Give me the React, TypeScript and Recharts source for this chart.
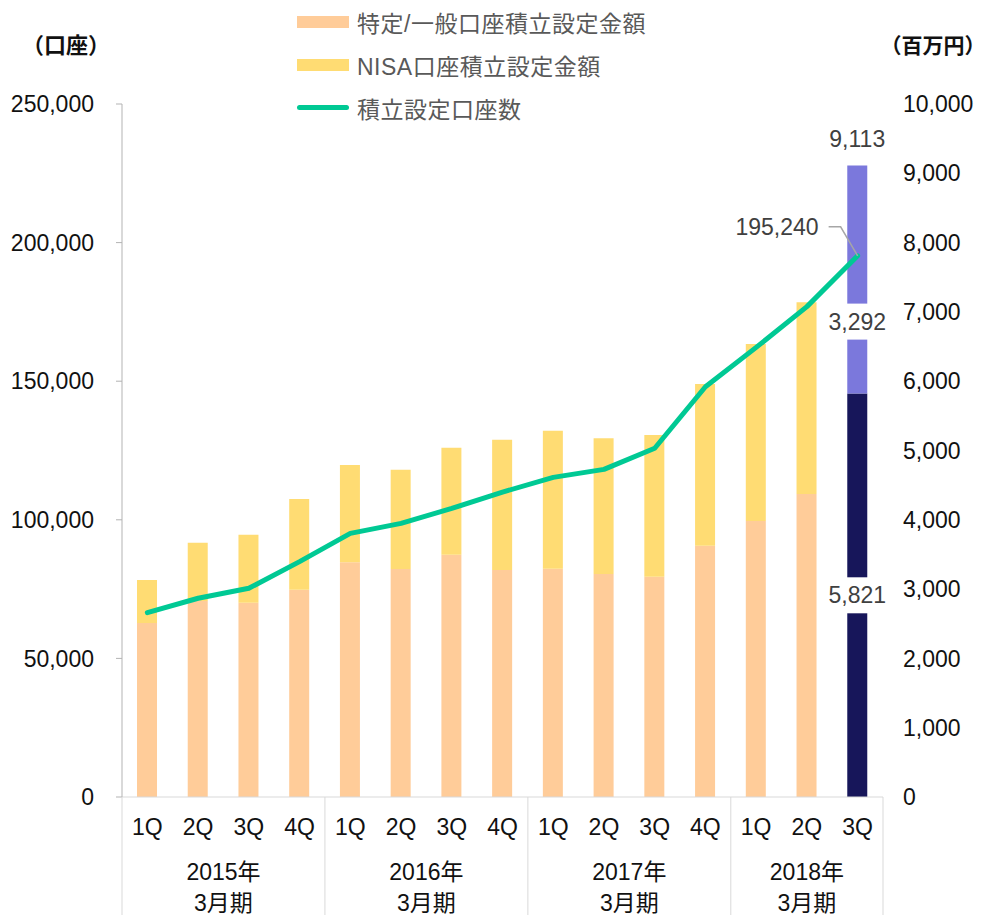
import { ComposedChart, Bar, Line, XAxis, YAxis, Legend, LabelList, Cell } from 'recharts'

const FONT = "'Liberation Sans', 'Noto Sans CJK JP', sans-serif"

// x axis: quarter within each fiscal year (ending March)
const quarters = ['1Q', '2Q', '3Q', '4Q', '1Q', '2Q', '3Q', '4Q', '1Q', '2Q', '3Q', '4Q', '1Q', '2Q', '3Q']
const fiscalYears = ['2015年', '2016年', '2017年', '2018年']
const periodLabel = '3月期'

// 百万円 (right axis)
const tokuteiAmount = [2511, 2828, 2804, 2991, 3387, 3290, 3496, 3276, 3294, 3218, 3179, 3626, 3983, 4372, 5821]
const nisaAmount = [620, 842, 981, 1309, 1404, 1433, 1544, 1880, 1992, 1958, 2045, 2334, 2554, 2767, 3292]
// 口座 (left axis)
const accounts = [66500, 71700, 75300, 84900, 95100, 98700, 104100, 110000, 115300, 118200, 125800, 148000, 162200, 176900, 195240]

const leftTicks = [0, 50000, 100000, 150000, 200000, 250000]
const rightTicks = [0, 1000, 2000, 3000, 4000, 5000, 6000, 7000, 8000, 9000, 10000]

const COLORS = {
  tokutei: '#ffcc99',
  nisa: '#ffdc73',
  latestTokutei: '#17165a',
  latestNisa: '#7b78dc',
  accounts: '#00c994',
  grid: '#d9d9d9',
}

const data = quarters.map((q, i) => ({
  key: `${fiscalYears[Math.floor(i / 4)]}-${q}`,
  quarter: q,
  tokutei: tokuteiAmount[i],
  nisa: nisaAmount[i],
  accounts: accounts[i],
}))
const lastIndex = data.length - 1

const fmt = (v: number) => v.toLocaleString('en-US')

function CategoryTick(props: any) {
  const { x, y, payload } = props
  const i = payload?.index ?? props.index
  const half = payload?.offset > 0 ? payload.offset : 761 / 15 / 2
  const groupStart = Math.floor(i / 4) * 4
  const groupEnd = Math.min(groupStart + 3, lastIndex)
  const isStart = i === groupStart
  const yearX = x + ((groupEnd - groupStart) / 2) * half * 2
  return (
    <g fontFamily={FONT} fontSize={23} fill="#111">
      <text x={x} y={y + 30} textAnchor="middle" dominantBaseline="central">{quarters[i]}</text>
      {isStart && (
        <>
          <line x1={x - half} y1={y} x2={x - half} y2={y + 118} stroke={COLORS.grid} strokeWidth={1} />
          <text x={yearX} y={y + 75} textAnchor="middle" dominantBaseline="central">{fiscalYears[groupStart / 4]}</text>
          <text x={yearX} y={y + 106} textAnchor="middle" dominantBaseline="central">{periodLabel}</text>
        </>
      )}
      {i === lastIndex && (
        <line x1={x + half} y1={y} x2={x + half} y2={y + 118} stroke={COLORS.grid} strokeWidth={1} />
      )}
    </g>
  )
}

function UnitLabel(props: any) {
  const { viewBox, text, cx, size } = props
  return (
    <text x={viewBox.x + cx} y={viewBox.y - 59} textAnchor="middle" dominantBaseline="central"
      fontFamily={FONT} fontSize={size} fontWeight="bold" fill="#111">
      {text}
    </text>
  )
}

function TokuteiLabel(props: any) {
  const { x, y, width, height, index } = props
  if (index !== lastIndex) return null
  const cy = y + height / 2
  return (
    <g>
      <rect x={x + width / 2 - 32} y={cy - 18} width={64} height={36} fill="#fff" />
      <text x={x + width / 2} y={cy} textAnchor="middle" dominantBaseline="central"
        fontFamily={FONT} fontSize={23} fill="#404040">{fmt(tokuteiAmount[index])}</text>
    </g>
  )
}

function NisaLabel(props: any) {
  const { x, y, width, height, index } = props
  if (index !== lastIndex) return null
  const cy = y + height - 72
  const total = tokuteiAmount[index] + nisaAmount[index]
  return (
    <g fontFamily={FONT} fontSize={23} fill="#404040">
      <rect x={x + width / 2 - 32} y={cy - 18} width={64} height={36} fill="#fff" />
      <text x={x + width / 2} y={cy} textAnchor="middle" dominantBaseline="central">{fmt(nisaAmount[index])}</text>
      <text x={x + width / 2} y={y - 26} textAnchor="middle" dominantBaseline="central">{fmt(total)}</text>
    </g>
  )
}

function AccountLabel(props: any) {
  const { x, y, index } = props
  if (index !== lastIndex) return null
  return (
    <g>
      <polyline points={`${x - 29},${y - 29} ${x - 17},${y - 29} ${x},${y}`} fill="none" stroke="#a6a6a6" strokeWidth={1.5} />
      <text x={x - 39} y={y - 29} textAnchor="end" dominantBaseline="central"
        fontFamily={FONT} fontSize={23} fill="#404040">{fmt(accounts[index])}</text>
    </g>
  )
}

function LegendBox() {
  const rows = [
    { label: '特定/一般口座積立設定金額', color: COLORS.tokutei, line: false },
    { label: 'NISA口座積立設定金額', color: COLORS.nisa, line: false },
    { label: '積立設定口座数', color: COLORS.accounts, line: true },
  ]
  return (
    <div style={{ fontFamily: FONT, fontSize: 23, color: '#595959' }}>
      {rows.map(r => (
        <div key={r.label} style={{ display: 'flex', alignItems: 'center', height: 43 }}>
          <span style={{
            display: 'inline-block', width: 52, height: r.line ? 5 : 12, background: r.color,
            borderRadius: r.line ? 3 : 0, marginRight: 8,
          }} />
          <span style={{ whiteSpace: 'nowrap', letterSpacing: 0.5 }}>{r.label}</span>
        </div>
      ))}
    </div>
  )
}

export default function App() {
  return (
    <div style={{ position: 'absolute', left: 0, top: 0, background: '#fff' }}>
      <ComposedChart width={990} height={915} data={data} margin={{ top: 104, right: 0, bottom: 0, left: 0 }}>
        <XAxis
          dataKey="key"
          interval={0}
          height={118}
          tickSize={0}
          tickMargin={0}
          tickLine={false}
          axisLine={{ stroke: COLORS.grid }}
          tick={<CategoryTick />}
        />
        <YAxis
          yAxisId="left"
          width={122}
          domain={[0, 250000]}
          ticks={leftTicks}
          tickFormatter={fmt}
          tickSize={6}
          tickMargin={22}
          tick={{ fontFamily: FONT, fontSize: 23, fill: '#111' }}
          axisLine={{ stroke: '#b3b3b3' }}
          tickLine={{ stroke: '#b3b3b3' }}
          label={<UnitLabel text="（口座）" cx={66} size={22} />}
        />
        <YAxis
          yAxisId="right"
          orientation="right"
          width={107}
          domain={[0, 10000]}
          ticks={rightTicks}
          tickFormatter={fmt}
          tickSize={0}
          tickMargin={20}
          tick={{ fontFamily: FONT, fontSize: 23, fill: '#111', textAnchor: 'start' }}
          axisLine={false}
          tickLine={false}
          label={<UnitLabel text="（百万円）" cx={50} size={21} />}
        />
        <Legend
          layout="vertical"
          align="center"
          verticalAlign="middle"
          content={() => <LegendBox />}
          wrapperStyle={{ top: 0, left: 297, right: 'auto', bottom: 'auto', width: 420 }}
        />
        <Bar yAxisId="right" dataKey="tokutei" stackId="amount" barSize={20} fill={COLORS.tokutei} isAnimationActive={false}>
          {data.map((d, i) => (
            <Cell key={d.key} fill={i === lastIndex ? COLORS.latestTokutei : COLORS.tokutei} />
          ))}
          <LabelList dataKey="tokutei" content={<TokuteiLabel />} />
        </Bar>
        <Bar yAxisId="right" dataKey="nisa" stackId="amount" barSize={20} fill={COLORS.nisa} isAnimationActive={false}>
          {data.map((d, i) => (
            <Cell key={d.key} fill={i === lastIndex ? COLORS.latestNisa : COLORS.nisa} />
          ))}
          <LabelList dataKey="nisa" content={<NisaLabel />} />
        </Bar>
        <Line
          yAxisId="left"
          type="linear"
          dataKey="accounts"
          stroke={COLORS.accounts}
          strokeWidth={5}
          strokeLinecap="round"
          strokeLinejoin="round"
          dot={false}
          activeDot={false}
          isAnimationActive={false}
        >
          <LabelList dataKey="accounts" content={<AccountLabel />} />
        </Line>
      </ComposedChart>
    </div>
  )
}
